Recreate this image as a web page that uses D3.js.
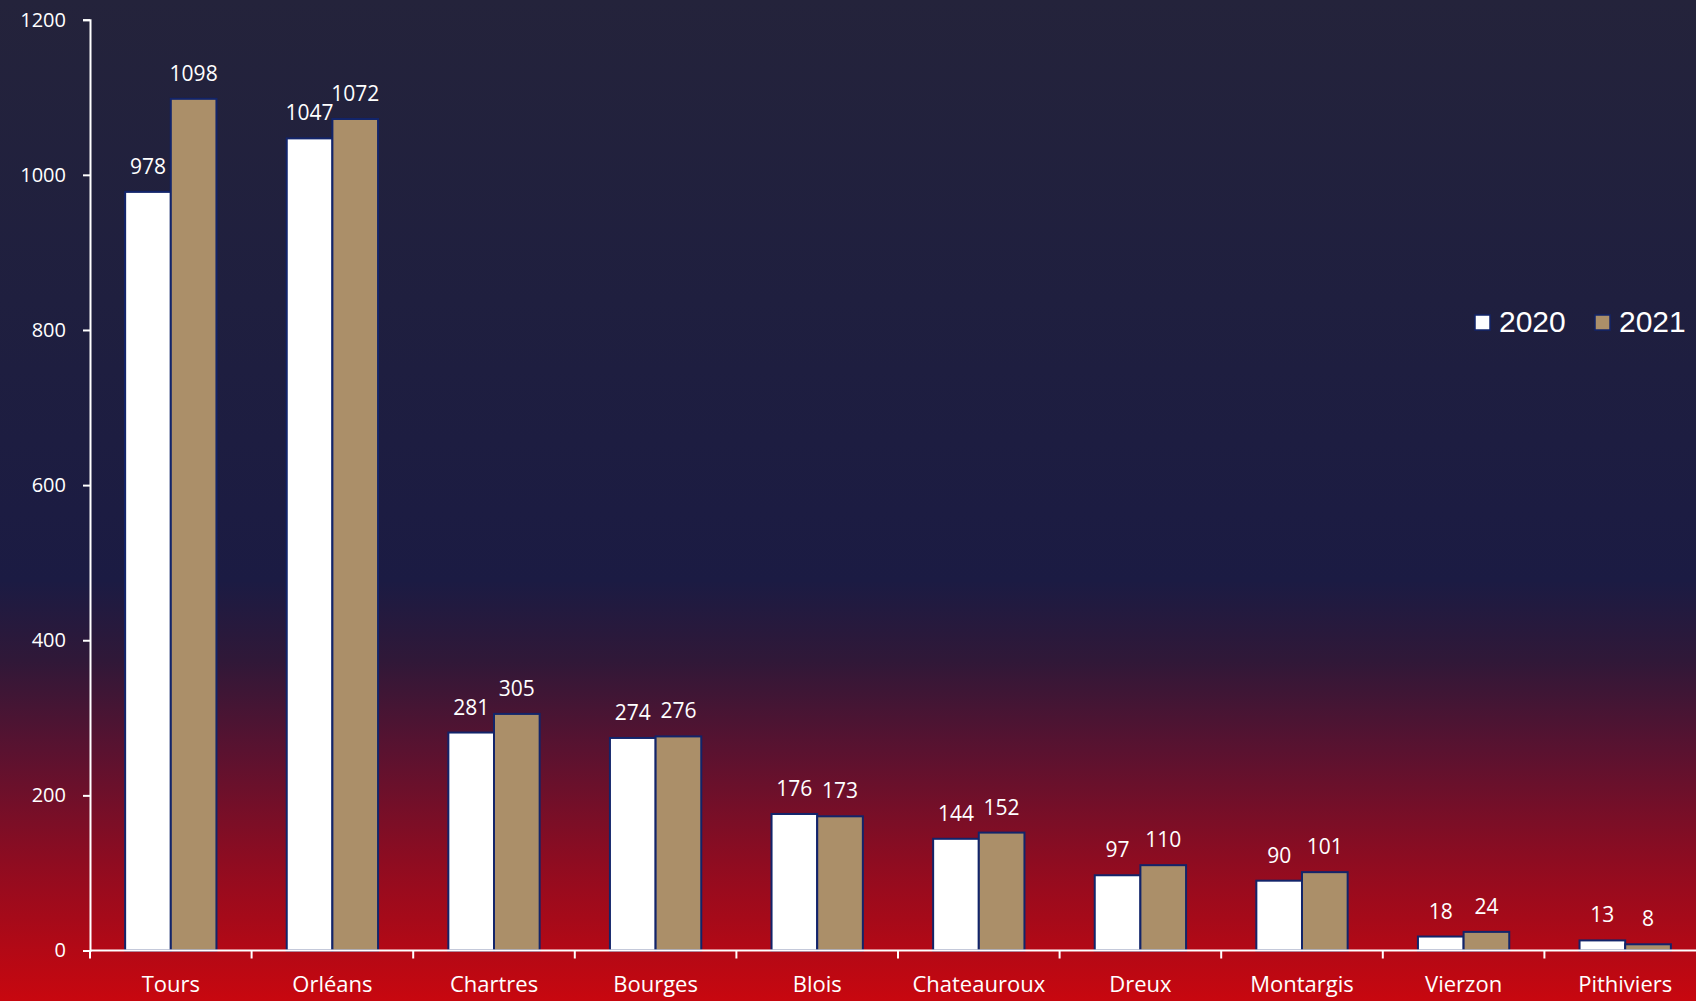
<!DOCTYPE html>
<html>
<head>
<meta charset="utf-8">
<script src="https://cdn.jsdelivr.net/npm/d3@7"></script>
<style>
  html, body { margin: 0; padding: 0; background: #1e1e3e; }
  svg { display: block; }
</style>
</head>
<body>
<svg id="chart" width="1696" height="1001"></svg>
<script>
const categories = ["Tours", "Orléans", "Chartres", "Bourges", "Blois", "Chateauroux", "Dreux", "Montargis", "Vierzon", "Pithiviers"];
const seriesNames = ["2020", "2021"];
const values2020 = [978, 1047, 281, 274, 176, 144, 97, 90, 18, 13];
const values2021 = [1098, 1072, 305, 276, 173, 152, 110, 101, 24, 8];
const yTicks = [0, 200, 400, 600, 800, 1000, 1200];
const seriesColors = ["#ffffff", "#ab8f69"];

const seriesValues = [values2020, values2021];
const W = 1696, H = 1001;
const svg = d3.select("#chart");

// Background gradient
const defs = svg.append("defs");
const grad = defs.append("linearGradient").attr("id", "bg").attr("x1", 0).attr("y1", 0).attr("x2", 0).attr("y2", 1);
[[0, "#24233b"], [0.3, "#1f1f3f"], [0.58, "#1b1b43"], [0.66, "#301838"], [0.75, "#5a1230"], [0.86, "#8e0c21"], [1, "#c8070f"]]
  .forEach(([o, c]) => grad.append("stop").attr("offset", o).attr("stop-color", c));
svg.append("rect").attr("width", W).attr("height", H).attr("fill", "url(#bg)");

const x0 = d3.scaleBand().domain(categories).range([90, 1706]).paddingInner(0).paddingOuter(0);
const bw = x0.bandwidth();
const x1 = d3.scaleBand().domain(seriesNames).range([bw * 0.2175, bw * 0.7825]).padding(0);
const y = d3.scaleLinear().domain([0, 1200]).range([950.5, 19.7]);

const font = "'Open Sans', 'DejaVu Sans', sans-serif";

// Bars
const groups = svg.append("g").selectAll("g")
  .data(categories)
  .join("g")
  .attr("transform", d => `translate(${x0(d)},0)`);

groups.selectAll("rect")
  .data((d, i) => seriesNames.map((s, j) => ({ s, j, v: seriesValues[j][i] })))
  .join("rect")
  .attr("x", d => x1(d.s))
  .attr("width", x1.bandwidth())
  .attr("y", d => y(d.v))
  .attr("height", d => y(0) - y(d.v))
  .attr("fill", d => seriesColors[d.j])
  .attr("stroke", "#12246a")
  .attr("stroke-width", 2);

groups.selectAll("text.val")
  .data((d, i) => seriesNames.map((s, j) => ({ s, j, v: seriesValues[j][i] })))
  .join("text")
  .attr("class", "val")
  .attr("x", d => x1(d.s) + x1.bandwidth() / 2)
  .attr("y", d => y(d.v) - 18)
  .attr("text-anchor", "middle")
  .attr("fill", "#ffffff")
  .attr("font-family", font)
  .attr("font-size", 21)
  .text(d => d.v);

// Y axis
const yAxis = svg.append("g")
  .attr("transform", "translate(90,0)")
  .call(d3.axisLeft(y).tickValues(yTicks).tickFormat(d3.format("d")).tickSize(7).tickSizeOuter(7).tickPadding(17));
yAxis.select(".domain").attr("stroke", "#ffffff").attr("stroke-width", 2);
yAxis.selectAll(".tick line").attr("stroke", "#ffffff").attr("stroke-width", 2);
yAxis.selectAll(".tick text").attr("fill", "#ffffff").attr("font-family", font).attr("font-size", 20);

// X axis
const xAxis = svg.append("g")
  .attr("transform", `translate(0,${y(0)})`)
  .call(d3.axisBottom(x0).tickSize(0).tickPadding(26));
xAxis.select(".domain").remove();
xAxis.selectAll(".tick text").attr("fill", "#ffffff").attr("font-family", font).attr("font-size", 22);
xAxis.append("line").attr("x1", 90).attr("x2", 1706).attr("y1", 0).attr("y2", 0)
  .attr("stroke", "#ffffff").attr("stroke-width", 2);
xAxis.selectAll("line.bt")
  .data(categories)
  .join("line")
  .attr("class", "bt")
  .attr("x1", d => x0(d)).attr("x2", d => x0(d))
  .attr("y1", 0).attr("y2", 8)
  .attr("stroke", "#ffffff").attr("stroke-width", 2);

// Legend
const legend = svg.append("g").attr("transform", "translate(1475,315)");
const legItems = legend.selectAll("g").data(seriesNames).join("g")
  .attr("transform", (d, i) => `translate(${i * 120},0)`);
legItems.append("rect").attr("width", 15).attr("height", 15)
  .attr("fill", (d, i) => seriesColors[i]).attr("stroke", "#12246a").attr("stroke-width", 1.5);
legItems.append("text").attr("x", 24).attr("y", 17)
  .attr("fill", "#ffffff").attr("font-family", "'Liberation Sans', Arial, sans-serif").attr("font-size", 30)
  .text(d => d);
</script>
</body>
</html>
